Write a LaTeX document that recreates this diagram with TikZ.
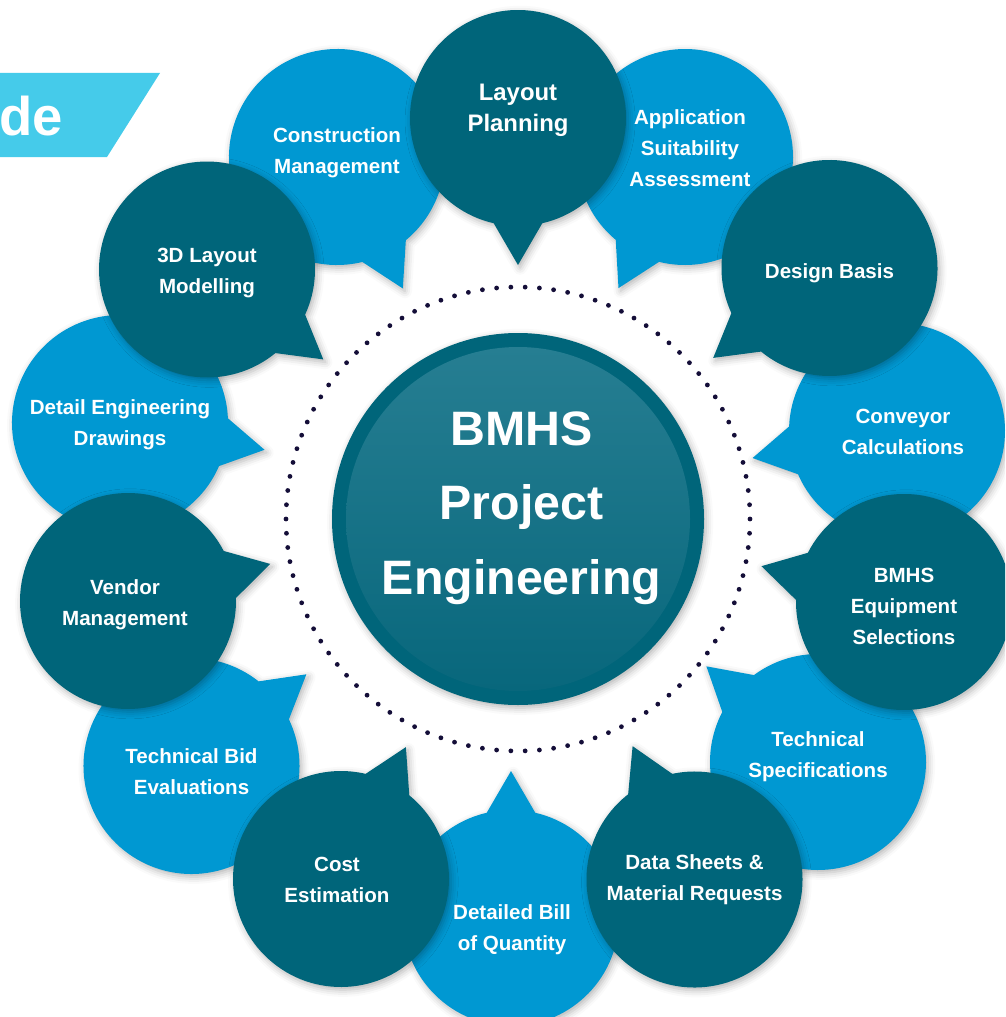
\documentclass[tikz,border=0pt]{standalone}
\usepackage{fontspec}
\setmainfont{Liberation Sans}
\usetikzlibrary{shadows.blur}
\definecolor{darkteal}{RGB}{0,101,122}
\definecolor{lightblue}{RGB}{0,152,210}
\definecolor{bannercyan}{RGB}{69,203,234}
\definecolor{dotnavy}{RGB}{20,14,56}
\definecolor{centertop}{RGB}{38,126,146}
\definecolor{centerbot}{RGB}{8,103,124}
\tikzset{
  bubshadow/.style={blur shadow={shadow xshift=1.2pt, shadow yshift=-1.6pt, shadow blur radius=4pt, shadow opacity=30}},
  bubtext/.style={text=white, align=center, inner sep=0pt, font=\bfseries\fontsize{11.7}{17.6}\selectfont},
  bubtextbig/.style={text=white, align=center, inner sep=0pt, font=\bfseries\fontsize{13.6}{17.6}\selectfont},
  centertext/.style={text=white, align=center, inner sep=0pt, font=\bfseries\fontsize{27.5}{42.5}\selectfont},
}
\newcommand{\speechbubble}[4]{% colour, cx, cy, tail angle
  \pgfmathsetmacro{\bubA}{#4+13}
  \pgfmathsetmacro{\bubB}{#4}
  \path[fill=#1, bubshadow] (#2,#3) ++(\bubA:108) arc[start angle=\bubA, delta angle=334, radius=108]
     -- ([shift={(\bubB:147)}]#2,#3) -- cycle;
}
\begin{document}
\begin{tikzpicture}[x=0.02cm, y=-0.02cm]
\useasboundingbox (0,0) rectangle (1005,1017);
\clip (0,0) rectangle (1005,1017);
% banner
\fill[bannercyan] (0,73) -- (160,73) -- (107,157) -- (0,157) -- cycle;
\node[anchor=base west, inner sep=0pt, text=white, font=\bfseries\fontsize{31}{31}\selectfont] (banner) at (-1,135) {de};
% dotted ring
\foreach \i in {0,...,101} {
  \pgfmathsetmacro{\dotang}{\i*3.529412}
  \fill[dotnavy] ([shift={(\dotang:232)}]518,519) circle[radius=2.4];
}
% centre circle
\fill[darkteal, bubshadow] (518,519) circle[radius=186];
\shade[top color=centertop, bottom color=centerbot] (518,519) circle[radius=172];
% light bubbles
\speechbubble{lightblue}{685}{157}{116.9}
\speechbubble{lightblue}{897}{431}{169.4}
\speechbubble{lightblue}{818}{762}{220.6}
\speechbubble{lightblue}{511}{918}{270}
\speechbubble{lightblue}{191.5}{766}{321.4}
\speechbubble{lightblue}{120}{423}{10.5}
\speechbubble{lightblue}{337}{157}{63.4}
% dark bubbles
\speechbubble{darkteal}{518}{118}{90}
\speechbubble{darkteal}{829.5}{268}{142.3}
\speechbubble{darkteal}{904}{602}{194.1}
\speechbubble{darkteal}{694.5}{879.5}{245.1}
\speechbubble{darkteal}{341}{879}{296.2}
\speechbubble{darkteal}{128}{601}{345.4}
\speechbubble{darkteal}{207}{269.5}{37.7}
% texts
\node[centertext] (centre) at (521.5,508) {BMHS\\Project\\Engineering};
\node[bubtextbig] (layout) at (518,110.5) {Layout\\Planning};
\node[bubtext] (appl) at (690,148) {Application\\Suitability\\Assessment};
\node[bubtext] (design) at (829.5,273) {Design Basis};
\node[bubtext] (conveyor) at (903,432) {Conveyor\\Calculations};
\node[bubtext] (equip) at (904,606) {BMHS\\Equipment\\Selections};
\node[bubtext] (techspec) at (818,756.5) {Technical\\Specifications};
\node[bubtext] (datasheets) at (694.5,880) {Data Sheets \&\\Material Requests};
\node[bubtext] (boq) at (512,929.6) {Detailed Bill\\of Quantity};
\node[bubtext] (cost) at (337,880) {Cost\\Estimation};
\node[bubtext] (bid) at (191.5,771.3) {Technical Bid\\Evaluations};
\node[bubtext] (vendor) at (125,605) {Vendor\\Management};
\node[bubtext] (drawings) at (120,425) {Detail Engineering\\Drawings};
\node[bubtext] (model) at (207,273.3) {3D Layout\\Modelling};
\node[bubtext] (constr) at (337,152.5) {Construction\\Management};
\end{tikzpicture}
\end{document}
